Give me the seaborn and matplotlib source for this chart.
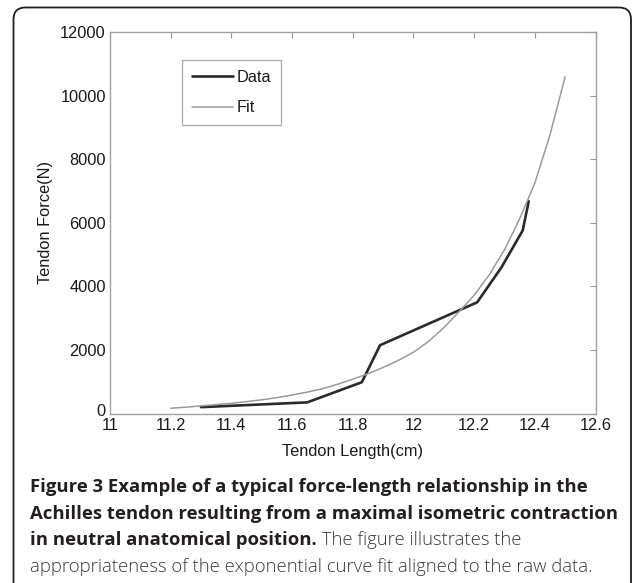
import numpy as np
import pandas as pd
import matplotlib
matplotlib.use("Agg")
import matplotlib.pyplot as plt
import seaborn as sns
from matplotlib.patches import FancyBboxPatch
from matplotlib.transforms import IdentityTransform, ScaledTranslation

# ---- data ----
data_length = [11.30, 11.65, 11.83, 11.89, 12.21, 12.29, 12.36, 12.38]
data_force = [200, 350, 985, 2150, 3500, 4600, 5760, 6680]

fit_length = [11.20, 11.25, 11.30, 11.35, 11.40, 11.45, 11.50, 11.55, 11.60, 11.65,
              11.70, 11.75, 11.80, 11.85, 11.90, 11.95, 12.00, 12.05, 12.10, 12.15,
              12.20, 12.25, 12.30, 12.35, 12.40, 12.45, 12.50]
fit_force = [165, 200, 240, 280, 320, 375, 430, 500, 580, 675,
             780, 920, 1080, 1250, 1450, 1670, 1930, 2270, 2700, 3200,
             3720, 4370, 5150, 6130, 7250, 8770, 10600]

x_ticks = [11.0, 11.2, 11.4, 11.6, 11.8, 12.0, 12.2, 12.4, 12.6]
x_tick_labels = ["11", "11.2", "11.4", "11.6", "11.8", "12", "12.2", "12.4", "12.6"]
y_ticks = [0, 2000, 4000, 6000, 8000, 10000, 12000]
y_tick_labels = ["0", "2000", "4000", "6000", "8000", "10000", "12000"]

series_labels = ["Data", "Fit"]
x_label = "Tendon Length(cm)"
y_label = "Tendon Force(N)"
caption_bold = [
    "Figure 3 Example of a typical force-length relationship in the",
    "Achilles tendon resulting from a maximal isometric contraction",
    "in neutral anatomical position.",
]
caption_regular = [
    " The figure illustrates the",
    "appropriateness of the exponential curve fit aligned to the raw data.",
]

# ---- style ----
sns.set_style("white")
plt.rcParams["font.family"] = ["Liberation Sans", "DejaVu Sans"]

W, H = 633, 583
fig = plt.figure(figsize=(W / 100, H / 100), dpi=100)
ax_left, ax_right, ax_top, ax_bottom = 110, 595.5, 32.3, 413.5
ax = fig.add_axes([ax_left / W, 1 - ax_bottom / H, (ax_right - ax_left) / W, (ax_bottom - ax_top) / H])

df_data = pd.DataFrame({"x": data_length, "y": data_force})
df_fit = pd.DataFrame({"x": fit_length, "y": fit_force})

sns.lineplot(data=df_data, x="x", y="y", ax=ax, color="#2a2a2a", linewidth=1.9,
             label=series_labels[0], sort=False)
sns.lineplot(data=df_fit, x="x", y="y", ax=ax, color="#9a9a9a", linewidth=1.1,
             label=series_labels[1], sort=False)

ax.set_xlim(11, 12.6)
ax.set_ylim(0, 12000)
ax.set_xticks(x_ticks)
ax.set_xticklabels(x_tick_labels)
ax.set_yticks(y_ticks)
ax.set_yticklabels(y_tick_labels)
ax.tick_params(direction="in", length=4, width=0.8, color="#999999", labelsize=11.8,
               labelcolor="#1a1a1a", top=True, right=True, pad=3)
# lift the "0" label a little, as in the reference
zero_lbl = ax.get_yticklabels()[0]
zero_lbl.set_transform(zero_lbl.get_transform() + ScaledTranslation(0, 3 / 100, fig.dpi_scale_trans))
for s in ax.spines.values():
    s.set_color("#a0a0a0")
    s.set_linewidth(1.0)
ax.set_xlabel(x_label, fontsize=11.8, color="#1a1a1a", labelpad=8)
ax.set_ylabel(y_label, fontsize=11.8, color="#1a1a1a", labelpad=5)

leg = ax.legend(loc="upper left", bbox_to_anchor=((182 - ax_left) / (ax_right - ax_left),
                                                   (ax_bottom - 60) / (ax_bottom - ax_top)),
                fontsize=11.8, frameon=True, fancybox=False, handlelength=2.5,
                handletextpad=0.25, labelspacing=0.95, borderpad=0.6, borderaxespad=0)
leg.get_frame().set_edgecolor("#9a9a9a")
leg.get_frame().set_linewidth(1.0)
for t in leg.get_texts():
    t.set_color("#1a1a1a")

# ---- caption ----
cap_font = ["Open Sans", "DejaVu Sans"]
cap_size = 13.3
baselines = [492, 518.7, 545.4, 572]
bold_last = None
for i, line in enumerate(caption_bold):
    t = fig.text(30 / W, 1 - baselines[i] / H, line, fontsize=cap_size, fontweight="bold",
                 family=cap_font, color="#231f20", va="baseline", ha="left")
    bold_last = t
renderer = fig.canvas.get_renderer()
bb = bold_last.get_window_extent(renderer)
fig.text(bb.x1 / W, 1 - baselines[2] / H, caption_regular[0], fontsize=cap_size,
         family=cap_font, fontweight="light", color="#3a3a3a", va="baseline", ha="left")
fig.text(30 / W, 1 - baselines[3] / H, caption_regular[1], fontsize=cap_size,
         family=cap_font, fontweight="light", color="#3a3a3a", va="baseline", ha="left")

# ---- rounded border ----
border = FancyBboxPatch((13.5, -20), 631 - 13.5, (H - 7.5) + 20,
                        boxstyle="round,pad=0,rounding_size=12",
                        transform=IdentityTransform(), fill=False,
                        edgecolor="#1e1e1e", linewidth=1.3)
fig.add_artist(border)

fig.savefig("out.png", dpi=100)
